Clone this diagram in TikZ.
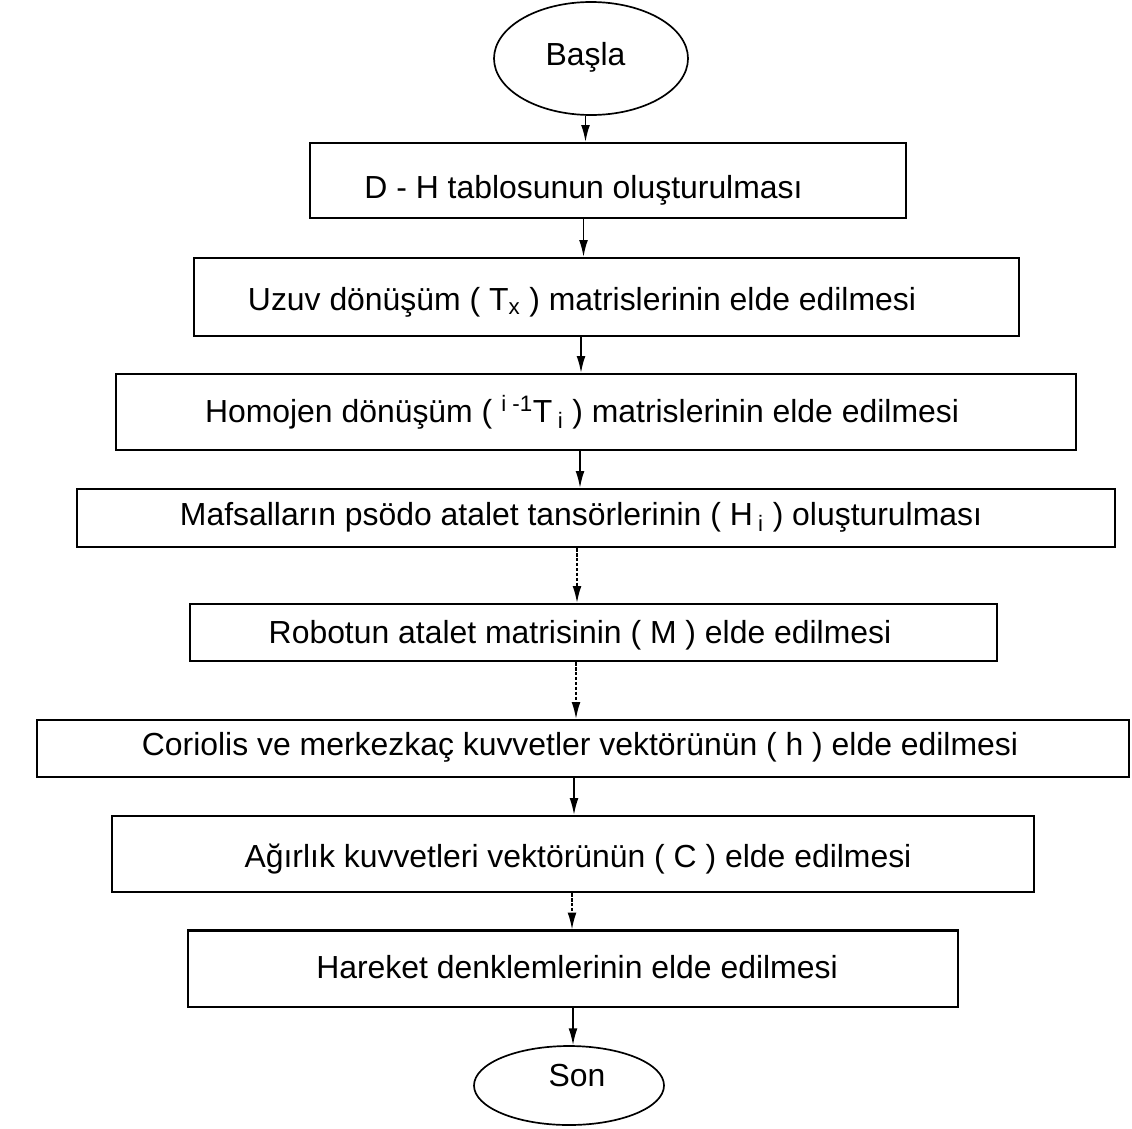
\documentclass[tikz,border=0pt]{standalone}
\usepackage{fontspec}
\setmainfont{Liberation Sans}
\usepackage{tikz}
\usetikzlibrary{shapes.geometric}
\usetikzlibrary{arrows.meta}

\begin{document}
\begin{tikzpicture}
    \tikzstyle{box}=[rectangle, draw, line width=1.6pt, inner sep=0]
    \tikzstyle{term}=[ellipse, draw, line width=1.2pt, inner sep=0]
    \tikzstyle{txt}=[anchor=base, inner sep=0, font=\fontsize{22.7pt}{27pt}\selectfont]
    \tikzstyle{arr}=[-{Latex[length=0.42cm,width=0.22cm]}, line width=1.1pt]
    \tikzstyle{arrd}=[arr, dash pattern=on 2.5pt off 1pt]
\useasboundingbox (0,0) rectangle (28.3,-28.2);

% start / end
\node[term, minimum width = 4.85cm,
    minimum height = 2.825cm] (bas) at (14.775,-1.4625) {};
\node[term, minimum width = 4.75cm,
    minimum height = 1.975cm] (son) at (14.225,-27.1375) {};
\node[txt] (t0) at (14.6375,-1.625) {Başla};
\node[txt] (t9) at (14.425,-27.15) {Son};

% steps
\node[box, minimum width = 14.9cm,
    minimum height = 1.875cm] (b1) at (15.2,-4.5125) {};
\node[box, minimum width = 20.625cm,
    minimum height = 1.95cm] (b2) at (15.1625,-7.425) {};
\node[box, minimum width = 24cm,
    minimum height = 1.9cm] (b3) at (14.9,-10.3) {};
\node[box, minimum width = 25.95cm,
    minimum height = 1.45cm] (b4) at (14.9,-12.95) {};
\node[box, minimum width = 20.175cm,
    minimum height = 1.425cm] (b5) at (14.8375,-15.8125) {};
\node[box, minimum width = 27.3cm,
    minimum height = 1.425cm] (b6) at (14.575,-18.7125) {};
\node[box, minimum width = 23.05cm,
    minimum height = 1.9cm] (b7) at (14.325,-21.35) {};
\node[box, minimum width = 19.25cm,
    minimum height = 1.9125cm] (b8) at (14.325,-24.22) {};

\node[txt] (t1) at (14.5875,-4.95) {D - H tablosunun oluşturulması};
\node[txt] (t2) at (14.55,-7.75) {Uzuv dönüşüm ( T\textsubscript{x} ) matrislerinin elde edilmesi};
\node[txt] (t3) at (14.55,-10.55) {Homojen dönüşüm ( \textsuperscript{i -1}T\,\textsubscript{i} ) matrislerinin elde edilmesi};
\node[txt] (t4) at (14.525,-13.125) {Mafsalların psödo atalet tansörlerinin ( H\,\textsubscript{i} ) oluşturulması};
\node[txt] (t5) at (14.5,-16.075) {Robotun atalet matrisinin ( M ) elde edilmesi};
\node[txt] (t6) at (14.5,-18.875) {Coriolis ve merkezkaç kuvvetler vektörünün ( h ) elde edilmesi};
\node[txt] (t7) at (14.45,-21.675) {Ağırlık kuvvetleri vektörünün ( C ) elde edilmesi};
\node[txt] (t8) at (14.425,-24.45) {Hareket denklemlerinin elde edilmesi};

% arrows
\draw[arr] (bas.south -| t0) -- (b1.north -| t0);
\draw[arr] (b1.south -| t1) -- (b2.north -| t1);
\draw[arr] ([xshift=-0.025cm]b2.south -| t2) -- ([xshift=-0.025cm]b3.north -| t2);
\draw[arr] ([xshift=-0.05cm]b3.south -| t3) -- ([xshift=-0.05cm]b4.north -| t3);
\draw[arrd] ([xshift=-0.1cm]b4.south -| t4) -- ([xshift=-0.1cm]b5.north -| t4);
\draw[arrd] ([xshift=-0.1cm]b5.south -| t5) -- ([xshift=-0.1cm]b6.north -| t5);
\draw[arr] ([xshift=-0.15cm]b6.south -| t6) -- ([xshift=-0.15cm]b7.north -| t6);
\draw[arrd] ([xshift=-0.15cm]b7.south -| t7) -- ([xshift=-0.15cm]b8.north -| t7);
\draw[arr] ([xshift=-0.1cm]b8.south -| t8) -- ([xshift=-0.1cm]son.north -| t8);

\end{tikzpicture}
\end{document}
